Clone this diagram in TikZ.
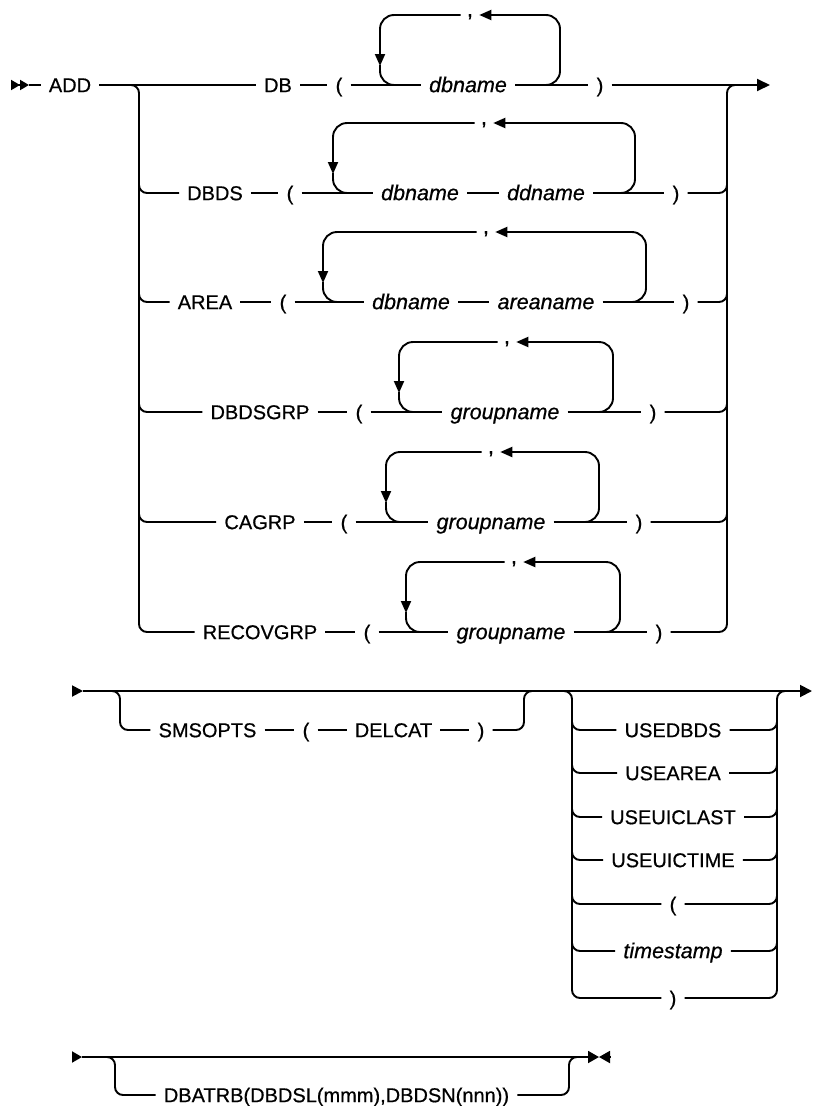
\documentclass[tikz,border=0pt]{standalone}
\usepackage{fontspec}
\setmainfont{Liberation Sans}[FakeBold=0.6]
\usetikzlibrary{arrows.meta}
\newcommand{\rrloop}[5]{%
  \coordinate (#1tl) at (#3,#2-70);
  \coordinate (#1tr) at (#4,#2-70);
  \coordinate (#1bl) at (#3,#2);
  \coordinate (#1br) at (#4,#2);
  \node[commanode] (#1c) at (#5,#2-71) {,};
  \draw[rail,rounded corners=14pt,-{Triangle[length=12pt,width=10pt]}] (#4-25,#2) -- (#1br) -- (#1tr) -- (#1c.east |- #1tr);
  \draw[rail,rounded corners=14pt,-{Triangle[length=12pt,width=10pt]}] (#1c.west |- #1tl) -- (#1tl) -- (#3,#2-19);
  \draw[rail,rounded corners=14pt] (#3,#2-20) -- (#1bl) -- (#3+25,#2);
}
\newcommand{\lrow}[2]{% left branch join: #1 y, #2 node
  \draw[rail,rounded corners=8pt] (139,#1-20) -- (139,#1) -- (#2.west);
}
\newcommand{\rrow}[2]{% right branch join
  \draw[rail,rounded corners=8pt] (#2.east) -- (727,#1) -- (727,#1-20);
}
\newcommand{\urow}[3]{% USE group row: #1 name, #2 y, #3 content
  \node[termnode] (#1) at (673,#2) {#3};
  \draw[rail,rounded corners=8pt] (572,#2-20) -- (572,#2) -- (#1.west);
  \draw[rail,rounded corners=8pt] (#1.east) -- (777,#2) -- (777,#2-20);
}
\begin{document}
\begin{tikzpicture}[x=1pt,y=-1pt,
  rail/.style={line width=1.9pt},
  termnode/.style={font=\fontsize{20}{24}\selectfont, inner xsep=8pt, inner ysep=0pt, text height=14.3pt, text depth=0pt},
  varnode/.style={termnode, font=\fontsize{21.5}{26}\selectfont\itshape},
  commanode/.style={font=\fontsize{22}{26}\selectfont, inner xsep=6pt, inner ysep=0pt, anchor=north},
]
\useasboundingbox (0,0) rectangle (813,1106);

% ---------------- Row 1 block ----------------
\coordinate (s1) at (11,85);
\coordinate (s1b) at (29,85);
\node[termnode] (add) at (70,85) {ADD};
\draw[rail,-{Triangle[length=9pt,width=10pt,sep=0pt]Triangle[length=9pt,width=10pt]}] (s1) -- (s1b);
\draw[rail] (s1b) -- (add.west);

% DB
\node[termnode] (r1k) at (278,85) {DB};
\node[termnode] (r1o) at (339,85) {(};
\node[varnode]  (r1a) at (468,85) {dbname};
\node[termnode] (r1e) at (600,85) {)};
\coordinate (e1) at (770,85);
\draw[rail] (add.east) -- (r1k.west);
\draw[rail] (r1k.east) -- (r1o.west);
\draw[rail] (r1o.east) -- (r1a.west);
\draw[rail] (r1a.east) -- (r1e.west);
\draw[rail,-{Triangle[length=13pt,width=12pt]}] (r1e.east) -- (e1);
\rrloop{l1}{85}{380}{560}{470}

% DBDS
\node[termnode] (r2k) at (215,193) {DBDS};
\node[termnode] (r2o) at (290,193) {(};
\node[varnode]  (r2a) at (420,193) {dbname};
\node[varnode]  (r2b) at (546,193) {ddname};
\node[termnode] (r2e) at (676,193) {)};
\draw[rail] (r2k.east) -- (r2o.west);
\draw[rail] (r2o.east) -- (r2a.west);
\draw[rail] (r2a.east) -- (r2b.west);
\draw[rail] (r2b.east) -- (r2e.west);
\rrloop{l2}{193}{333}{635}{484}
\lrow{193}{r2k}
\rrow{193}{r2e}

% AREA
\node[termnode] (r3k) at (205,302) {AREA};
\node[termnode] (r3o) at (283,302) {(};
\node[varnode]  (r3a) at (411,302) {dbname};
\node[varnode]  (r3b) at (546,302) {areaname};
\node[termnode] (r3e) at (686,302) {)};
\draw[rail] (r3k.east) -- (r3o.west);
\draw[rail] (r3o.east) -- (r3a.west);
\draw[rail] (r3a.east) -- (r3b.west);
\draw[rail] (r3b.east) -- (r3e.west);
\rrloop{l3}{302}{323}{646}{486}
\lrow{302}{r3k}
\rrow{302}{r3e}

% DBDSGRP
\node[termnode] (r4k) at (260,412) {DBDSGRP};
\node[termnode] (r4o) at (359,412) {(};
\node[varnode]  (r4a) at (505,412) {groupname};
\node[termnode] (r4e) at (653,412) {)};
\draw[rail] (r4k.east) -- (r4o.west);
\draw[rail] (r4o.east) -- (r4a.west);
\draw[rail] (r4a.east) -- (r4e.west);
\rrloop{l4}{412}{399}{613}{507}
\lrow{412}{r4k}
\rrow{412}{r4e}

% CAGRP
\node[termnode] (r5k) at (260,522) {CAGRP};
\node[termnode] (r5o) at (344,522) {(};
\node[varnode]  (r5a) at (491,522) {groupname};
\node[termnode] (r5e) at (639,522) {)};
\draw[rail] (r5k.east) -- (r5o.west);
\draw[rail] (r5o.east) -- (r5a.west);
\draw[rail] (r5a.east) -- (r5e.west);
\rrloop{l5}{522}{386}{599}{491}
\lrow{522}{r5k}
\rrow{522}{r5e}

% RECOVGRP
\node[termnode] (r6k) at (260,632) {RECOVGRP};
\node[termnode] (r6o) at (367,632) {(};
\node[varnode]  (r6a) at (511,632) {groupname};
\node[termnode] (r6e) at (659,632) {)};
\draw[rail] (r6k.east) -- (r6o.west);
\draw[rail] (r6o.east) -- (r6a.west);
\draw[rail] (r6a.east) -- (r6e.west);
\rrloop{l6}{632}{406}{620}{514}

% branch verticals
\draw[rail,rounded corners=8pt] (128,85) -- (139,85) -- (139,632) -- (r6k.west);
\draw[rail,rounded corners=8pt] (r6e.east) -- (727,632) -- (727,85) -- (738,85);

% ---------------- Row 2 block ----------------
\coordinate (s2) at (72,691);
\coordinate (s2b) at (83,691);
\coordinate (e2) at (812,691);
\draw[rail,-{Triangle[length=11pt,width=11pt]}] (s2) -- (s2b);
\draw[rail,-{Triangle[length=12pt,width=12pt]}] (s2b) -- (e2);

\node[termnode] (sm)  at (207.5,730) {SMSOPTS};
\node[termnode] (smo) at (306,730) {(};
\node[termnode] (dc)  at (393.5,730) {DELCAT};
\node[termnode] (smc) at (481,730) {)};
\draw[rail,rounded corners=8pt] (108,691) -- (120,691) -- (120,730) -- (sm.west);
\draw[rail] (sm.east) -- (smo.west);
\draw[rail] (smo.east) -- (dc.west);
\draw[rail] (dc.east) -- (smc.west);
\draw[rail,rounded corners=8pt] (smc.east) -- (524,730) -- (524,691) -- (536,691);

\urow{u1}{730}{USEDBDS}
\urow{u2}{773}{USEAREA}
\urow{u3}{817}{USEUICLAST}
\urow{u4}{860}{USEUICTIME}
\urow{u5}{904}{(}
\node[varnode] (u6) at (673,951) {timestamp};
\draw[rail,rounded corners=8pt] (572,931) -- (572,951) -- (u6.west);
\draw[rail,rounded corners=8pt] (u6.east) -- (777,951) -- (777,931);
\node[termnode] (u7) at (673,998) {)};
\draw[rail,rounded corners=8pt] (560,691) -- (572,691) -- (572,998) -- (u7.west);
\draw[rail,rounded corners=8pt] (u7.east) -- (777,998) -- (777,691) -- (789,691);

% ---------------- Row 3 block ----------------
\coordinate (s3) at (72,1057);
\coordinate (s3b) at (82,1057);
\coordinate (e3) at (599,1057);
\coordinate (e3b) at (610,1057);
\draw[rail,-{Triangle[length=10pt,width=11pt]}] (s3) -- (s3b);
\draw[rail,-{Triangle[length=11pt,width=12pt]}] (s3b) -- (e3);
\draw[rail,-{Triangle[length=11pt,width=12pt]}] (e3b) -- (e3);

\node[termnode] (dba) at (336.5,1095) {DBATRB(DBDSL(mmm),DBDSN(nnn))};
\draw[rail,rounded corners=8pt] (104,1057) -- (115,1057) -- (115,1095) -- (dba.west);
\draw[rail,rounded corners=8pt] (dba.east) -- (569,1095) -- (569,1057) -- (580,1057);
\end{tikzpicture}
\end{document}
